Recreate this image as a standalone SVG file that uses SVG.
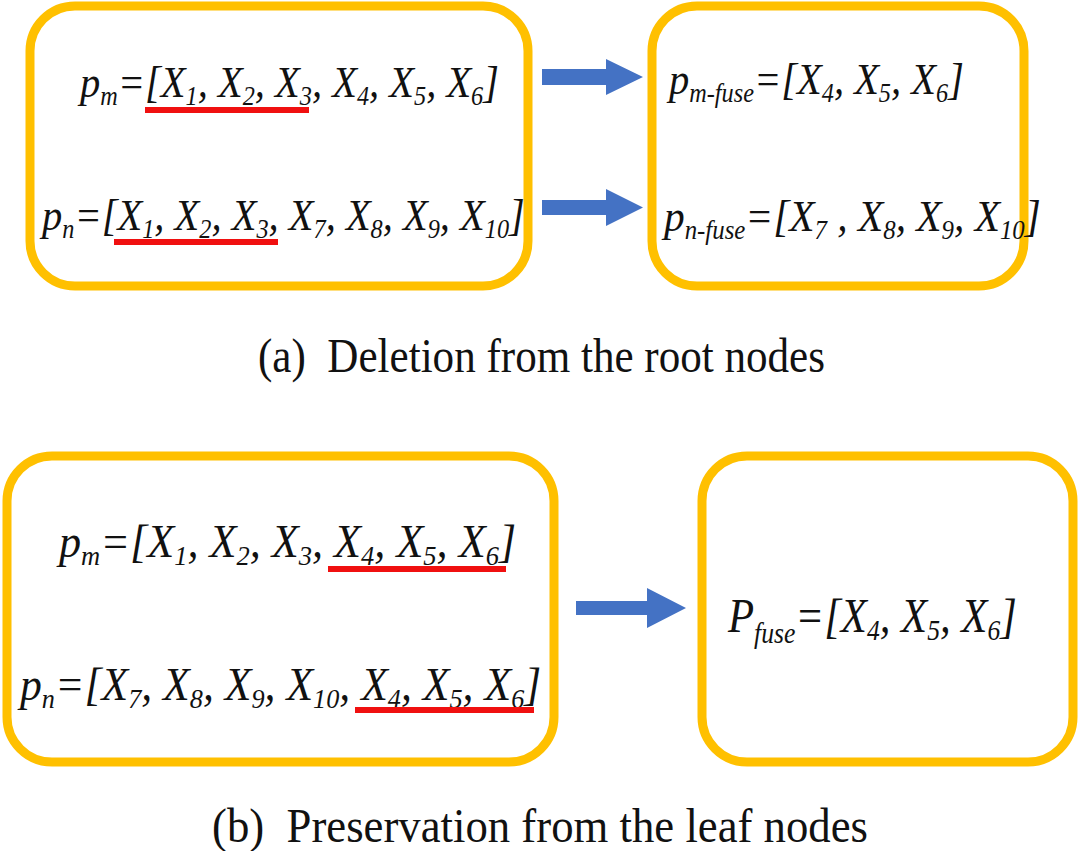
<svg xmlns="http://www.w3.org/2000/svg" width="1080" height="851" viewBox="0 0 1080 851">
<style>
.box{fill:#fff;stroke:#FFC000;stroke-width:9}
.f{font-family:"Liberation Serif","Times New Roman",serif;font-style:italic;fill:#111}
.s{font-size:60%}
.cap{font-family:"Liberation Serif","Times New Roman",serif;font-size:48px;fill:#111;white-space:pre}
.ul{stroke:#F01010;stroke-width:6}
.arr{fill:#4472C4}
</style>
<rect width="1080" height="851" fill="#fff"/>
<g id="box-a-left">
<rect class="box" x="30" y="6" width="498" height="280" rx="45"/>
<text class="f" font-size="44" transform="translate(80,97) scale(0.92,1)">p<tspan class="s" dy="8">m</tspan><tspan dy="-8">=[X</tspan><tspan class="s" dy="8">1</tspan><tspan dy="-8">, X</tspan><tspan class="s" dy="8">2</tspan><tspan dy="-8">, X</tspan><tspan class="s" dy="8">3</tspan><tspan dy="-8">, X</tspan><tspan class="s" dy="8">4</tspan><tspan dy="-8">, X</tspan><tspan class="s" dy="8">5</tspan><tspan dy="-8">, X</tspan><tspan class="s" dy="8">6</tspan><tspan dy="-8">]</tspan></text>
<line class="ul" x1="145" y1="110" x2="309" y2="110"/>
<text class="f" font-size="44" transform="translate(42,230) scale(0.92,1)">p<tspan class="s" dy="8">n</tspan><tspan dy="-8">=[X</tspan><tspan class="s" dy="8">1</tspan><tspan dy="-8">, X</tspan><tspan class="s" dy="8">2</tspan><tspan dy="-8">, X</tspan><tspan class="s" dy="8">3</tspan><tspan dy="-8">, X</tspan><tspan class="s" dy="8">7</tspan><tspan dy="-8">, X</tspan><tspan class="s" dy="8">8</tspan><tspan dy="-8">, X</tspan><tspan class="s" dy="8">9</tspan><tspan dy="-8">, X</tspan><tspan class="s" dy="8">10</tspan><tspan dy="-8">]</tspan></text>
<line class="ul" x1="114" y1="242" x2="278" y2="242"/>
</g>
<g id="box-a-right">
<rect class="box" x="652" y="6" width="372" height="280" rx="45"/>
<text class="f" font-size="44" transform="translate(669,94) scale(0.92,1)">p<tspan class="s" dy="8">m-fuse</tspan><tspan dy="-8">=[X</tspan><tspan class="s" dy="8">4</tspan><tspan dy="-8">, X</tspan><tspan class="s" dy="8">5</tspan><tspan dy="-8">, X</tspan><tspan class="s" dy="8">6</tspan><tspan dy="-8">]</tspan></text>
<text class="f" font-size="44" transform="translate(664,231) scale(0.94,1)">p<tspan class="s" dy="8">n-fuse</tspan><tspan dy="-8">=[X</tspan><tspan class="s" dy="8">7</tspan><tspan dy="-8"> , X</tspan><tspan class="s" dy="8">8</tspan><tspan dy="-8">, X</tspan><tspan class="s" dy="8">9</tspan><tspan dy="-8">, X</tspan><tspan class="s" dy="8">10</tspan><tspan dy="-8">]</tspan></text>
</g>
<g id="box-b-left">
<rect class="box" x="7" y="456" width="547" height="306" rx="45"/>
<text class="f" font-size="46" transform="translate(59,557) scale(0.96,1)">p<tspan class="s" dy="8">m</tspan><tspan dy="-8">=[X</tspan><tspan class="s" dy="8">1</tspan><tspan dy="-8">, X</tspan><tspan class="s" dy="8">2</tspan><tspan dy="-8">, X</tspan><tspan class="s" dy="8">3</tspan><tspan dy="-8">, X</tspan><tspan class="s" dy="8">4</tspan><tspan dy="-8">, X</tspan><tspan class="s" dy="8">5</tspan><tspan dy="-8">, X</tspan><tspan class="s" dy="8">6</tspan><tspan dy="-8">]</tspan></text>
<line class="ul" x1="328" y1="569" x2="506" y2="569"/>
<text class="f" font-size="46" transform="translate(20,700) scale(0.95,1)">p<tspan class="s" dy="8">n</tspan><tspan dy="-8">=[X</tspan><tspan class="s" dy="8">7</tspan><tspan dy="-8">, X</tspan><tspan class="s" dy="8">8</tspan><tspan dy="-8">, X</tspan><tspan class="s" dy="8">9</tspan><tspan dy="-8">, X</tspan><tspan class="s" dy="8">10</tspan><tspan dy="-8">, X</tspan><tspan class="s" dy="8">4</tspan><tspan dy="-8">, X</tspan><tspan class="s" dy="8">5</tspan><tspan dy="-8">, X</tspan><tspan class="s" dy="8">6</tspan><tspan dy="-8">]</tspan></text>
<line class="ul" x1="355" y1="710" x2="534" y2="710"/>
</g>
<g id="box-b-right">
<rect class="box" x="702" y="456" width="371" height="306" rx="45"/>
<text class="f" font-size="48" transform="translate(728,632) scale(0.89,1)">P<tspan class="s" dy="11">fuse</tspan><tspan dy="-11">=[X</tspan><tspan class="s" dy="8">4</tspan><tspan dy="-8">, X</tspan><tspan class="s" dy="8">5</tspan><tspan dy="-8">, X</tspan><tspan class="s" dy="8">6</tspan><tspan dy="-8">]</tspan></text>
</g>
<g id="connectors">
<polygon class="arr" points="542,69 606,69 606,59 643,77 606,95 606,85 542,85"/>
<polygon class="arr" points="542,200 606,200 606,189 643,207.5 606,226 606,215 542,215"/>
<polygon class="arr" points="576,601 647,601 647,588 686,608 647,628 647,615 576,615"/>
</g>
<g id="captions">
<text class="cap" xml:space="preserve" x="258" y="372" textLength="567" lengthAdjust="spacingAndGlyphs">(a)  Deletion from the root nodes</text>
<text class="cap" xml:space="preserve" x="212" y="842" textLength="656" lengthAdjust="spacingAndGlyphs">(b)  Preservation from the leaf nodes</text>
</g>
</svg>
